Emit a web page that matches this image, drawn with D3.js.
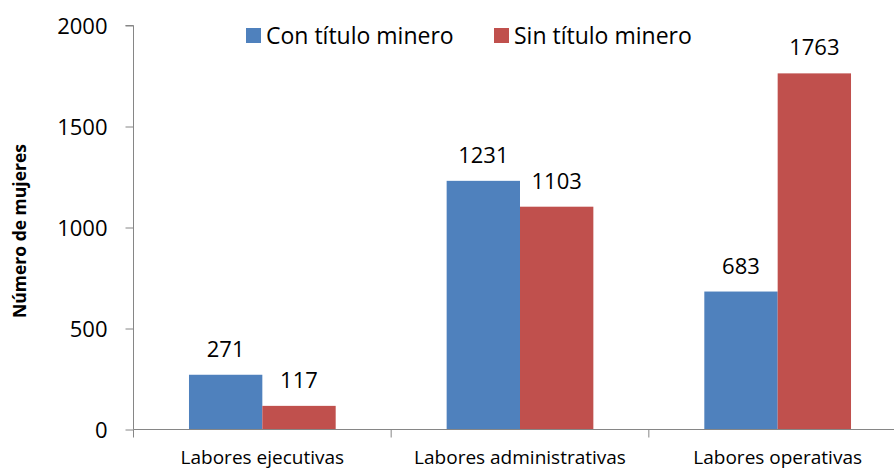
<!DOCTYPE html>
<html lang="en">
<head>
    <meta charset="UTF-8">
    <title>Mujeres por labor</title>
    <style>
        body{ margin: 0; background: #fff; }
        svg{ display: block; font-family: "Open Sans", sans-serif; }
        .tick text{ font-family: "Open Sans", sans-serif; fill: #000; }
        .yaxis .tick text{ font-size: 22px; }
        .xaxis .tick text{ font-size: 19px; }
        .label{ font-size: 22px; text-anchor: middle; }
        .legend{ font-size: 23px; }
        .ytitle{ font-size: 17.5px; font-weight: bold; text-anchor: middle; }
    </style>
    <script src="https://d3js.org/d3.v7.min.js"></script>
</head>
<body>
<svg width="894" height="470" id="figure"></svg>
<script>
    let categories = ['Labores ejecutivas', 'Labores administrativas', 'Labores operativas']
    let series = ['Con título minero', 'Sin título minero']
    let conTitulo = [271, 1231, 683]
    let sinTitulo = [117, 1103, 1763]
    let yTicks = [0, 500, 1000, 1500, 2000]
    let colors = ['#4F81BD', '#C0504D']

    let data = categories.map(function (c, i){
        return {cat: c, values: [conTitulo[i], sinTitulo[i]]}
    })

    let svg = d3.select('#figure')
    let axisColor = '#868686'

    let xScale = d3.scaleBand().domain(categories).range([133.5, 906.5]).paddingInner(0).paddingOuter(0)
    let yScale = d3.scaleLinear().domain([0, 2000]).range([429.5, 25.5])
    let inner = d3.scaleBand().domain(series).range([0, 146.7])
    let groupOffset = (xScale.bandwidth() - 146.7) / 2

    // bars
    let groups = svg.selectAll('.group')
        .data(data)
        .enter()
        .append('g')
        .attr('transform', function (d){ return `translate(${xScale(d.cat) + groupOffset},0)` })

    groups.selectAll('rect')
        .data(function (d){ return d.values.map(function (v, j){ return {s: series[j], v: v, c: colors[j]} }) })
        .enter()
        .append('rect')
        .attr('x', function (d){ return inner(d.s) })
        .attr('width', inner.bandwidth())
        .attr('y', function (d){ return yScale(d.v) })
        .attr('height', function (d){ return yScale(0) - yScale(d.v) })
        .attr('fill', function (d){ return d.c })

    groups.selectAll('.label')
        .data(function (d){ return d.values.map(function (v, j){ return {s: series[j], v: v} }) })
        .enter()
        .append('text')
        .attr('class', 'label')
        .attr('x', function (d){ return inner(d.s) + inner.bandwidth() / 2 })
        .attr('y', function (d){ return yScale(d.v) - 18 })
        .text(function (d){ return d.v })

    // y axis
    let yAxis = svg.append('g')
        .attr('class', 'yaxis')
        .attr('transform', `translate(${133.5},0)`)
        .call(d3.axisLeft(yScale).tickValues(yTicks).tickSize(8).tickPadding(18).tickFormat(d3.format('d')))
    yAxis.select('.domain').attr('stroke', axisColor).attr('d', `M-8,${yScale(2000)}H0V${yScale(0)}`)
    yAxis.selectAll('.tick line').attr('stroke', axisColor)
    yAxis.selectAll('.tick text').attr('dy', '0.36em')

    // x axis
    let xAxis = svg.append('g')
        .attr('class', 'xaxis')
        .attr('transform', `translate(0,${yScale(0)})`)
        .call(d3.axisBottom(xScale).tickSize(0).tickPadding(21))
    xAxis.select('.domain').attr('stroke', axisColor).attr('d', `M133.5,0H906.5`)
    // boundary ticks between categories
    svg.append('g').selectAll('line')
        .data(categories)
        .enter()
        .append('line')
        .attr('x1', function (d){ return xScale(d) })
        .attr('x2', function (d){ return xScale(d) })
        .attr('y1', yScale(0))
        .attr('y2', yScale(0) + 8)
        .attr('stroke', axisColor)

    // y title
    svg.append('text')
        .attr('class', 'ytitle')
        .attr('transform', `translate(${26},${231}) rotate(270)`)
        .text('Número de mujeres')

    // legend
    let legendX = [246, 494]
    series.forEach(function (s, i){
        let lg = svg.append('g').attr('transform', `translate(${legendX[i]},${28})`)
        lg.append('rect').attr('width', 15).attr('height', 15).attr('fill', colors[i])
        lg.append('text').attr('class', 'legend').attr('x', 20).attr('y', 15.5).text(s)
    })
</script>
</body>
</html>
